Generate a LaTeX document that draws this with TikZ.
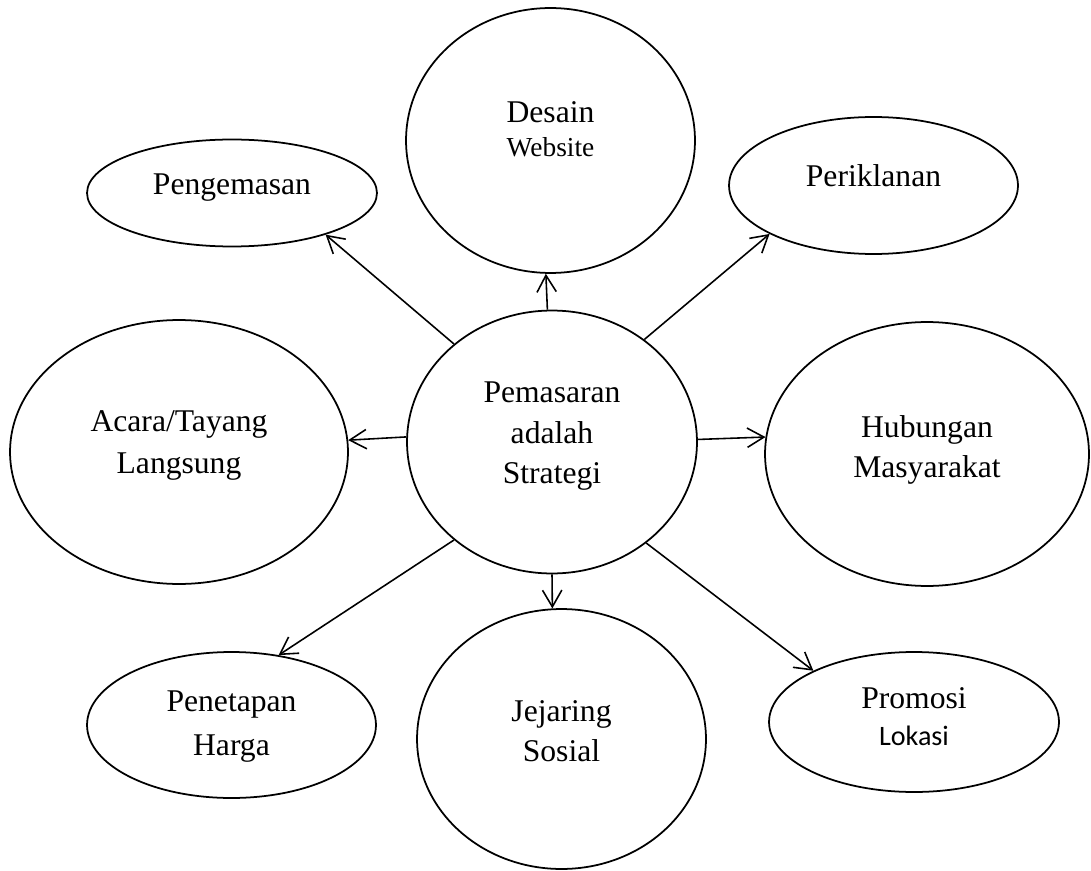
\documentclass[tikz,border=0pt]{standalone}
\usepackage{fontspec}
\setmainfont{Liberation Serif}
\newfontfamily\sansfnt{Carlito}
\usetikzlibrary{shapes.geometric, arrows.meta}

\newcommand{\lbl}[2][0pt]{\raisebox{#1}[0pt][0pt]{\begin{tabular}{@{}c@{}}#2\end{tabular}}}

\begin{document}
\begin{tikzpicture}[x=0.02cm, y=-0.02cm,
        bubble/.style={draw, ellipse, line width=1pt, inner sep=0pt, font=\fontsize{18}{23}\selectfont},
        link/.style={-{Straight Barb[length=9.5pt, width=11pt]}, line width=0.9pt}]
        \useasboundingbox (0,0) rectangle (1091,871);
        % pusat
        \node[bubble, minimum width=5.8cm, minimum height=5.26cm] (strategi) at (552,442) {\lbl[-0.5pt]{Pemasaran\\adalah\\Strategi}};
        % sekeliling
        \node[bubble, minimum width=5.78cm, minimum height=5.3cm] (website) at (550.5,140.5) {\def\arraystretch{0.84}\lbl{Desain\\{\rmfamily\fontsize{15.6}{19}\selectfont Website}}};
        \node[bubble, minimum width=5.8cm, minimum height=2.14cm] (kemasan) at (232,193) {\lbl[-0.5pt]{Pengemasan}};
        \node[bubble, minimum width=5.78cm, minimum height=2.74cm] (iklan) at (873.5,185.5) {\lbl[-0.5pt]{Periklanan}};
        \node[bubble, minimum width=6.76cm, minimum height=5.28cm] (acara) at (179,452) {\def\arraystretch{1.04}\lbl{Acara/Tayang\\Langsung}};
        \node[bubble, minimum width=6.48cm, minimum height=5.28cm] (humas) at (927,454) {\lbl[-1.6pt]{Hubungan\\Masyarakat}};
        \node[bubble, minimum width=5.78cm, minimum height=2.92cm] (harga) at (231.5,725) {\def\arraystretch{1.09}\lbl[-4.4pt]{Penetapan\\Harga}};
        \node[bubble, minimum width=5.78cm, minimum height=5.2cm] (sosial) at (561.5,739) {\lbl[-1.3pt]{Jejaring\\Sosial}};
        \node[bubble, minimum width=5.8cm, minimum height=2.8cm] (promosi) at (914,722) {\def\arraystretch{0.915}\lbl[-3pt]{Promosi\\{\sansfnt\fontsize{16}{19}\selectfont Lokasi}}};
        % panah
        \draw[link] (strategi.135) -- (kemasan.-24);
        \draw[link] (strategi.92.6) -- (website.-92);
        \draw[link] (strategi.48.8) -- (iklan.-155.1);
        \draw[link] (strategi.178.8) -- (acara.4.3);
        \draw[link] (strategi.1.2) -- (humas.174.9);
        \draw[link] (strategi.-135.8) -- (harga.56.2);
        \draw[link] (strategi.-90.9) -- (sosial.94.9);
        \draw[link] (strategi.-47.1) -- (promosi.153);
\end{tikzpicture}
\end{document}
